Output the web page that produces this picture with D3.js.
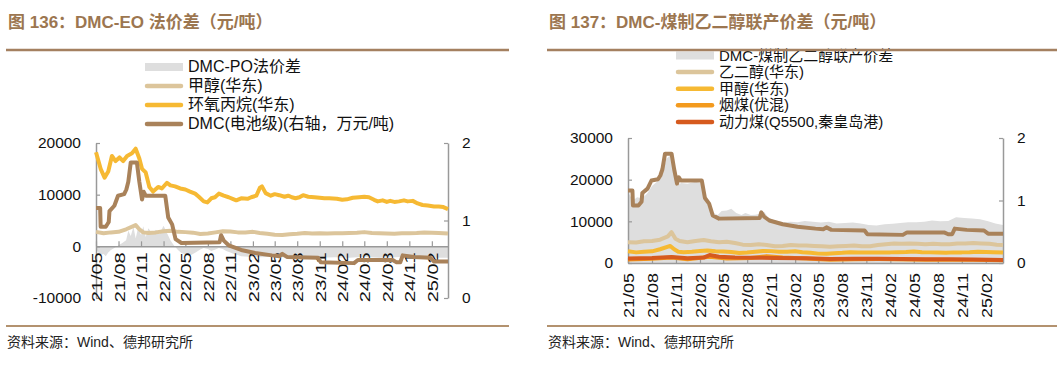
<!DOCTYPE html>
<html>
<head>
<meta charset="utf-8">
<script src="https://cdn.jsdelivr.net/npm/d3@7"></script>
<style>
  body { margin: 0; background: #fff; }
  svg text { font-family: "Liberation Sans", Arial, "Noto Sans CJK SC", sans-serif; }
</style>
</head>
<body>
<svg id="chart" width="1063" height="367"></svg>
<script>
// ---- data ----
const xTicks = ["21/05","21/08","21/11","22/02","22/05","22/08","22/11","23/02","23/05","23/08","23/11","24/02","24/05","24/08","24/11","25/02"];

// DMC(电池级), 万元/吨 (right axis in both panels)
const dmcPrice = [
  ["2021-05-01",1.16],["2021-05-18",1.16],["2021-05-20",0.92],["2021-06-10",0.92],["2021-06-22",0.98],
  ["2021-06-25",1.12],["2021-07-15",1.19],["2021-07-30",1.32],["2021-08-24",1.34],["2021-09-02",1.40],
  ["2021-09-10",1.50],["2021-09-20",1.75],["2021-10-15",1.75],["2021-10-25",1.50],["2021-11-05",1.27],
  ["2021-11-12",1.37],["2021-11-20",1.32],["2022-02-08",1.32],["2022-02-20",1.04],["2022-03-08",0.95],
  ["2022-03-22",0.76],["2022-04-15",0.71],["2022-09-18",0.72],["2022-09-24",0.81],["2022-10-05",0.74],
  ["2022-10-25",0.68],["2022-12-15",0.62],["2023-02-10",0.58],["2023-04-20",0.55],["2023-05-20",0.54],
  ["2023-06-01",0.57],["2023-06-20",0.53],["2023-10-25",0.52],["2023-11-05",0.46],["2024-03-20",0.45],
  ["2024-04-05",0.49],["2024-08-25",0.49],["2024-09-10",0.46],["2024-09-25",0.46],["2024-10-05",0.55],
  ["2024-11-20",0.53],["2025-01-25",0.52],["2025-02-10",0.47],["2025-04-08",0.47]
];

// 环氧丙烷(华东), 元/吨
const poPrice = [
  ["2021-05-01",18200],["2021-05-20",15000],["2021-06-05",13300],["2021-06-20",14500],["2021-07-05",17500],
  ["2021-07-20",16500],["2021-08-05",17200],["2021-08-20",16500],["2021-09-05",17500],["2021-09-25",18000],
  ["2021-10-10",18900],["2021-10-25",17000],["2021-11-05",15000],["2021-11-20",14300],["2021-12-05",11500],
  ["2021-12-20",10600],["2022-01-10",11500],["2022-01-25",11200],["2022-02-15",12300],["2022-03-01",11800],
  ["2022-03-20",11600],["2022-04-10",11200],["2022-05-01",11000],["2022-05-20",10600],["2022-06-10",10200],
  ["2022-06-25",9600],["2022-07-15",8700],["2022-07-30",8500],["2022-08-15",9300],["2022-08-30",9500],
  ["2022-09-15",10200],["2022-10-05",9800],["2022-10-25",9500],["2022-11-10",9200],["2022-11-25",8900],
  ["2022-12-15",9300],["2023-01-10",9200],["2023-01-25",9500],["2023-02-15",9800],["2023-03-01",11300],
  ["2023-03-10",11600],["2023-03-25",10300],["2023-04-15",9800],["2023-05-01",10100],["2023-05-20",9900],
  ["2023-06-10",9600],["2023-06-25",9800],["2023-07-10",9500],["2023-07-25",9300],["2023-08-10",9500],
  ["2023-08-25",9900],["2023-09-15",9600],["2023-10-10",9500],["2023-11-01",9400],["2023-11-20",9300],
  ["2023-12-10",9300],["2024-01-10",9200],["2024-02-01",9000],["2024-02-20",9100],["2024-03-15",9400],
  ["2024-04-10",9500],["2024-05-01",9600],["2024-05-20",9500],["2024-06-10",9000],["2024-06-25",8700],
  ["2024-07-15",8900],["2024-08-01",8600],["2024-08-15",8800],["2024-09-01",8600],["2024-09-20",8700],
  ["2024-10-10",8900],["2024-10-25",8700],["2024-11-15",8800],["2024-12-05",8300],["2024-12-25",8000],
  ["2025-01-15",7900],["2025-02-10",7700],["2025-03-01",7700],["2025-03-20",7600],["2025-04-08",7200]
];

// 甲醇(华东), 元/吨
const methanol = [
  ["2021-05-01",2800],["2021-06-01",2550],["2021-07-01",2700],["2021-08-01",2800],["2021-09-01",3300],
  ["2021-10-10",4100],["2021-10-25",3300],["2021-11-10",2700],["2021-12-01",2600],["2022-01-01",2700],
  ["2022-02-01",2900],["2022-03-01",3000],["2022-04-01",2800],["2022-05-01",2750],["2022-06-01",2650],
  ["2022-07-01",2400],["2022-08-01",2500],["2022-09-01",2700],["2022-10-01",2900],["2022-11-01",2850],
  ["2022-12-01",2700],["2023-01-01",2700],["2023-02-01",2800],["2023-03-01",2600],["2023-04-01",2450],
  ["2023-05-01",2250],["2023-06-01",2200],["2023-07-01",2350],["2023-08-01",2450],["2023-09-01",2600],
  ["2023-10-01",2500],["2023-11-01",2550],["2023-12-01",2500],["2024-01-01",2550],["2024-02-01",2550],
  ["2024-03-01",2600],["2024-04-01",2650],["2024-05-01",2750],["2024-06-01",2600],["2024-07-01",2550],
  ["2024-08-01",2500],["2024-09-01",2450],["2024-10-01",2550],["2024-11-01",2550],["2024-12-01",2600],
  ["2025-01-01",2700],["2025-02-01",2650],["2025-03-01",2600],["2025-04-08",2500]
];

// DMC-PO法价差, 元/吨
const dmcPoSpread = [
  ["2021-05-01",-400],["2021-05-10",-1200],["2021-05-20",-1700],["2021-06-01",-1500],["2021-06-10",-1900],
  ["2021-06-20",-1200],["2021-07-01",-700],["2021-07-15",-300],["2021-08-01",200],["2021-08-15",600],
  ["2021-09-01",1200],["2021-09-10",3000],["2021-09-20",2000],["2021-10-01",3800],["2021-10-10",1500],
  ["2021-10-20",3600],["2021-11-01",2200],["2021-11-10",3900],["2021-11-20",1800],["2021-12-01",3500],
  ["2021-12-15",2600],["2022-01-01",3200],["2022-01-15",2400],["2022-02-01",4000],["2022-02-15",2600],
  ["2022-03-01",1200],["2022-03-15",200],["2022-04-01",-700],["2022-04-15",-1300],["2022-05-01",-1600],
  ["2022-05-15",-1900],["2022-06-01",-1500],["2022-06-15",-1100],["2022-07-01",-600],["2022-07-15",-300],
  ["2022-08-01",-500],["2022-08-15",-900],["2022-09-01",-600],["2022-09-15",-300],["2022-10-01",-500],
  ["2022-10-15",-900],["2022-11-01",-1200],["2022-11-15",-1500],["2022-12-01",-1700],["2022-12-15",-1900],
  ["2023-01-15",-2000],["2023-03-01",-2100],["2023-05-01",-2000],["2023-07-01",-2200],["2023-09-01",-2100],
  ["2023-11-01",-2200],["2024-01-01",-2100],["2024-03-01",-2200],["2024-05-01",-2000],["2024-07-01",-2200],
  ["2024-09-01",-2100],["2024-11-01",-2000],["2025-01-01",-2100],["2025-03-01",-2200],["2025-04-08",-2200]
];

// DMC-煤制乙二醇联产价差, 元/吨
const dmcMegSpread = [
  ["2021-05-01",17000],["2021-05-20",15000],["2021-06-05",15800],["2021-06-25",15500],["2021-07-15",16800],
  ["2021-08-01",18500],["2021-08-20",19500],["2021-09-10",21500],["2021-09-25",25000],["2021-10-10",25800],
  ["2021-10-25",22000],["2021-11-05",18500],["2021-11-20",19200],["2021-12-15",19000],["2022-01-15",19500],
  ["2022-02-10",19000],["2022-02-25",15500],["2022-03-10",14000],["2022-03-25",12000],["2022-04-10",11500],
  ["2022-04-25",12500],["2022-05-15",12600],["2022-06-01",13000],["2022-06-20",12000],["2022-07-10",11500],
  ["2022-07-25",12000],["2022-08-15",11500],["2022-09-01",11600],["2022-09-20",11800],["2022-10-05",12300],
  ["2022-10-20",11000],["2022-11-10",10300],["2022-12-01",10000],["2022-12-20",9800],["2023-01-15",9900],
  ["2023-02-10",9800],["2023-03-10",10100],["2023-04-10",9900],["2023-05-10",9700],["2023-06-10",9900],
  ["2023-07-10",9500],["2023-08-10",9600],["2023-09-10",9700],["2023-10-10",9500],["2023-11-10",9100],
  ["2023-12-10",9000],["2024-01-10",9300],["2024-02-10",9400],["2024-03-10",9600],["2024-04-10",9800],
  ["2024-05-10",9800],["2024-06-10",9900],["2024-07-10",10200],["2024-08-10",10000],["2024-09-10",10100],
  ["2024-10-10",11000],["2024-11-10",10800],["2024-12-10",10700],["2025-01-10",10500],["2025-02-10",10000],
  ["2025-03-10",9500],["2025-04-08",9100]
];

// 乙二醇(华东), 元/吨
const megPrice = [
  ["2021-05-01",5000],["2021-06-01",4900],["2021-07-01",5200],["2021-08-01",5300],["2021-09-01",5600],
  ["2021-10-01",6400],["2021-10-15",7400],["2021-10-30",5800],["2021-11-15",5300],["2021-12-15",5000],
  ["2022-01-15",5300],["2022-02-15",5500],["2022-03-15",5200],["2022-04-15",5000],["2022-05-15",5100],
  ["2022-06-15",4800],["2022-07-15",4400],["2022-08-15",4300],["2022-09-15",4500],["2022-10-15",4300],
  ["2022-11-15",4000],["2022-12-15",4100],["2023-01-15",4300],["2023-02-15",4200],["2023-03-15",4200],
  ["2023-04-15",4100],["2023-05-15",4000],["2023-06-15",3900],["2023-07-15",4000],["2023-08-15",4100],
  ["2023-09-15",4200],["2023-10-15",4000],["2023-11-15",4000],["2023-12-15",4300],["2024-01-15",4500],
  ["2024-02-15",4700],["2024-03-15",4600],["2024-04-15",4700],["2024-05-15",4600],["2024-06-15",4500],
  ["2024-07-15",4600],["2024-08-15",4500],["2024-09-15",4500],["2024-10-15",4700],["2024-11-15",4700],
  ["2024-12-15",4800],["2025-01-15",4700],["2025-02-15",4600],["2025-03-15",4400],["2025-04-08",4300]
];

// 烟煤(优混), 元/吨
const bitCoal = [
  ["2021-05-01",850],["2021-08-01",1000],["2021-10-15",1300],["2021-12-15",900],["2022-03-10",1500],
  ["2022-05-15",1100],["2022-08-15",1200],["2022-10-15",1650],["2022-12-15",1300],["2023-03-15",1100],
  ["2023-06-15",800],["2023-09-15",900],["2023-12-15",950],["2024-06-15",800],["2024-12-15",750],
  ["2025-04-08",650]
];

// 动力煤(Q5500,秦皇岛港), 元/吨
const steamCoal = [
  ["2021-05-01",1100],["2021-08-01",1200],["2021-10-15",1450],["2021-12-15",1150],["2022-02-15",1300],
  ["2022-03-10",1900],["2022-04-15",1500],["2022-06-15",1300],["2022-09-15",1250],["2022-11-15",1200],
  ["2023-03-15",1150],["2023-06-15",950],["2023-09-15",1050],["2023-12-15",1000],["2024-03-15",950],
  ["2024-06-15",900],["2024-09-15",880],["2024-12-15",820],["2025-04-08",720]
];

const leftLegend = ["DMC-PO法价差", "甲醇(华东)", "环氧丙烷(华东)", "DMC(电池级)(右轴，万元/吨)"];
const rightLegend = ["DMC-煤制乙二醇联产价差", "乙二醇(华东)", "甲醇(华东)", "烟煤(优混)", "动力煤(Q5500,秦皇岛港)"];

// ---- drawing ----
const parse = d3.timeParse("%Y-%m-%d");
const tickDates = xTicks.map(s => new Date(2000 + +s.slice(0, 2), +s.slice(3) - 1, 1));
const dateDomain = [parse("2021-05-01"), parse("2025-04-08")];
const plain = d => String(d);   // keep ASCII hyphen for negatives, no decimals

const C = {
  grey: "#dedede", tan: "#dcc59b", yellow: "#f6b933", brown: "#a9825a",
  orange: "#f39a1e", red: "#d65a1e", axis: "#999", title: "#9c7650", rule: "#a48060"
};

const svg = d3.select("#chart");

function drawPanel(p) {
  const g = svg.append("g");
  const x = d3.scaleTime().domain(dateDomain).range([p.x0, p.x1]);
  const yL = d3.scaleLinear().domain(p.yDomain).range([p.yBottom, p.yTop]);
  const yR = d3.scaleLinear().domain([0, 2]).range([p.yBottom, p.yTop]);

  // grey spread area
  g.append("path")
    .datum(p.area)
    .attr("fill", C.grey)
    .attr("d", d3.area().x(d => x(parse(d[0]))).y0(yL(0)).y1(d => yL(d[1])));

  // axes
  const left = g.append("g").attr("transform", `translate(${p.x0},0)`)
    .call(d3.axisLeft(yL).tickValues(p.yTicks).tickFormat(plain).tickSize(-4).tickSizeOuter(0).tickPadding(15));
  const right = g.append("g").attr("transform", `translate(${p.x1},0)`)
    .call(d3.axisRight(yR).tickValues([0, 1, 2]).tickFormat(plain).tickSize(-4).tickSizeOuter(0).tickPadding(14));
  const bottom = g.append("g").attr("transform", `translate(0,${yL(0)})`)
    .call(d3.axisBottom(x).tickValues(tickDates).tickFormat((d, i) => xTicks[i]).tickSize(-5).tickSizeOuter(0));
  bottom.selectAll("text")
    .attr("transform", "rotate(-90)")
    .attr("x", -p.labelGap).attr("y", 0).attr("dy", "0.36em")
    .attr("text-anchor", "end")
    .attr("textLength", p.labelLen).attr("lengthAdjust", "spacingAndGlyphs");

  [left, right, bottom].forEach(a => {
    a.select(".domain").attr("stroke", C.axis).attr("stroke-width", 1.5);
    a.selectAll(".tick line").attr("stroke", C.axis).attr("stroke-width", 1.2);
    a.selectAll("text").attr("fill", "#111").attr("font-size", "15.5px")
      .attr("font-family", "'Liberation Sans', Arial, sans-serif");
  });

  // lines
  p.lines.forEach(s => {
    const y = s.right ? yR : yL;
    g.append("path")
      .datum(s.data)
      .attr("fill", "none")
      .attr("stroke", s.color)
      .attr("stroke-width", 4)
      .attr("stroke-linejoin", "round")
      .attr("d", d3.line().x(d => x(parse(d[0]))).y(d => y(d[1])));
  });

  // legend
  const lg = g.append("g");
  p.legend.forEach((item, i) => {
    const cy = p.legY + i * p.legStep;
    if (i === 0) {
      lg.append("rect").attr("x", p.legX).attr("y", cy - 4).attr("width", 38).attr("height", 8).attr("fill", C.grey);
    } else {
      lg.append("line").attr("x1", p.legX + 2).attr("x2", p.legX + 36).attr("y1", cy).attr("y2", cy)
        .attr("stroke", item.color).attr("stroke-width", 4.5).attr("stroke-linecap", "round");
    }
    lg.append("text").attr("x", p.legX + 43).attr("y", cy + p.legFont * 0.34)
      .attr("font-size", p.legFont + "px").attr("fill", "#111").text(item.label);
  });

  // title, rules and source
  svg.append("text").attr("x", p.rx0 + 2).attr("y", 28)
    .attr("font-size", "17px").attr("font-weight", "bold").attr("fill", C.title).text(p.title);
  svg.append("line").attr("x1", p.rx0).attr("x2", p.rx1).attr("y1", 50).attr("y2", 50)
    .attr("stroke", C.rule).attr("stroke-width", 2.5);
  svg.append("line").attr("x1", p.rx0).attr("x2", p.rx1).attr("y1", 326).attr("y2", 326)
    .attr("stroke", "#b3926f").attr("stroke-width", 1.8);
  svg.append("text").attr("x", p.rx0 + 1).attr("y", 347)
    .attr("font-size", "14px").attr("fill", "#222").text("资料来源：Wind、德邦研究所");
}

drawPanel({
  title: "图 136：DMC-EO 法价差（元/吨）",
  rx0: 6, rx1: 509,
  x0: 96, x1: 448, yTop: 143, yBottom: 298,
  yDomain: [-10000, 20000], yTicks: [-10000, 0, 10000, 20000],
  labelGap: 6, labelLen: 50,
  area: dmcPoSpread,
  lines: [
    { data: methanol, color: C.tan },
    { data: poPrice, color: C.yellow },
    { data: dmcPrice, color: C.brown, right: true }
  ],
  legX: 145, legY: 67, legStep: 19, legFont: 16,
  legend: [
    { label: leftLegend[0] },
    { label: leftLegend[1], color: C.tan },
    { label: leftLegend[2], color: C.yellow },
    { label: leftLegend[3], color: C.brown }
  ]
});

drawPanel({
  title: "图 137：DMC-煤制乙二醇联产价差（元/吨）",
  rx0: 547, rx1: 1057,
  x0: 628, x1: 1003, yTop: 138, yBottom: 263,
  yDomain: [0, 30000], yTicks: [0, 10000, 20000, 30000],
  labelGap: 10, labelLen: 45,
  area: dmcMegSpread,
  lines: [
    { data: bitCoal, color: C.orange },
    { data: steamCoal, color: C.red },
    { data: methanol, color: C.yellow },
    { data: megPrice, color: C.tan },
    { data: dmcPrice, color: C.brown, right: true }
  ],
  legX: 676, legY: 55.5, legStep: 16.6, legFont: 15,
  legend: [
    { label: rightLegend[0] },
    { label: rightLegend[1], color: C.tan },
    { label: rightLegend[2], color: C.yellow },
    { label: rightLegend[3], color: C.orange },
    { label: rightLegend[4], color: C.red }
  ]
});
</script>
</body>
</html>
